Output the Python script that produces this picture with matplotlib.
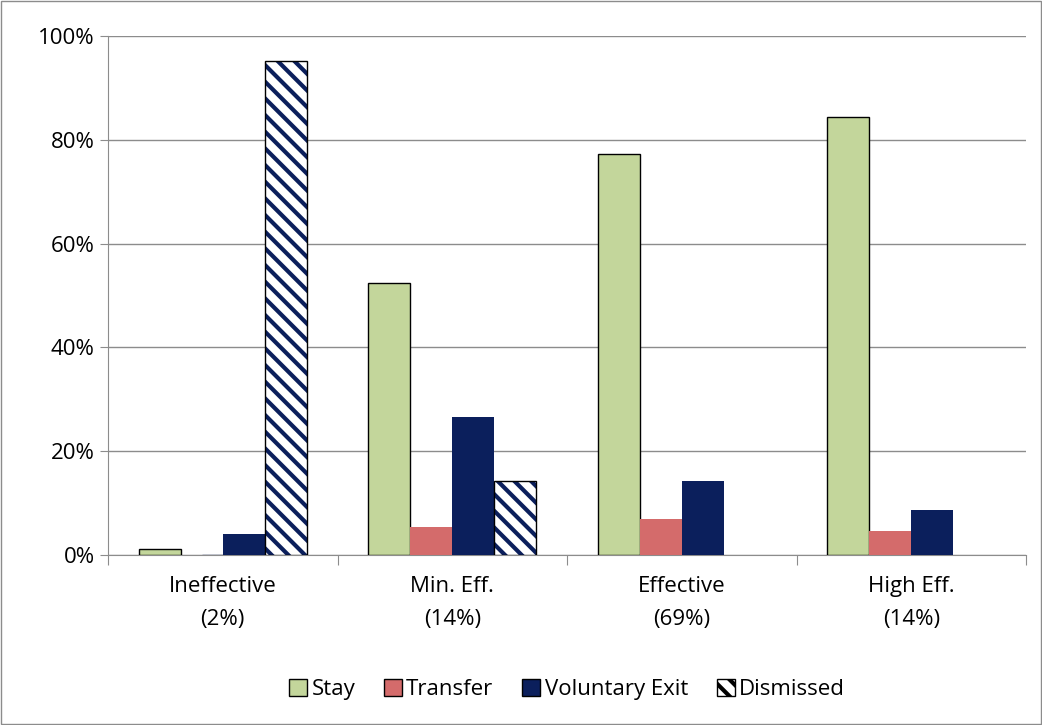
import numpy as np
import matplotlib.pyplot as plt
from matplotlib.patches import Rectangle

plt.rcParams['font.family'] = ['Open Sans', 'DejaVu Sans']
plt.rcParams['hatch.linewidth'] = 3.0

groups = ['Ineffective\n(2%)', 'Min. Eff.\n(14%)', 'Effective\n(69%)', 'High Eff.\n(14%)']
series = ['Stay', 'Transfer', 'Voluntary Exit', 'Dismissed']
stay = [1.2, 52.4, 77.3, 84.4]
transfer = [0.0, 5.3, 6.9, 4.6]
vol_exit = [4.0, 26.6, 14.3, 8.6]
dismissed = [95.1, 14.3, 0.0, 0.0]

navy = '#0b1f5c'
fig = plt.figure(figsize=(10.42, 7.25), dpi=100)
fig.patches.append(Rectangle((0.001, 0.001), 0.998, 0.998, transform=fig.transFigure,
                             fill=False, edgecolor='#8c8c8c', linewidth=1))
ax = fig.add_axes([108 / 1042, 1 - 555 / 725, 918 / 1042, 519 / 725])

x = np.arange(len(groups))
w = 0.183
ax.bar(x - 1.5 * w, stay, w, color='#c3d69b', edgecolor='black', linewidth=1, label=series[0], zorder=3)
ax.bar(x - 0.5 * w, transfer, w, color='#d46b6b', edgecolor='none', label=series[1], zorder=3)
ax.bar(x + 0.5 * w, vol_exit, w, color=navy, edgecolor='none', label=series[2], zorder=3)
for xi, v in zip(x, dismissed):
    if v > 0:
        ax.bar(xi + 1.5 * w, v, w, color='white', edgecolor=navy, hatch='\\\\', linewidth=0, zorder=3)
        ax.bar(xi + 1.5 * w, v, w, fill=False, edgecolor='black', linewidth=1, zorder=4)
ax.bar([0], [0], w, color='white', edgecolor=navy, hatch='\\\\', label=series[3])

ax.set_xlim(-0.5, 3.5)
ax.set_ylim(0, 100)
ax.set_yticks(range(0, 101, 20))
ax.set_yticklabels([f'{v}%' for v in range(0, 101, 20)], fontsize=16)
ax.yaxis.grid(True, color='#8c8c8c', linewidth=1, zorder=0)
ax.set_xticks(np.arange(-0.5, 4, 1))
ax.set_xticklabels([])
ax.tick_params(axis='x', length=7, color='#8c8c8c')
ax.tick_params(axis='y', length=6, color='#8c8c8c')
for xi, g in zip(x, groups):
    ax.text(xi, -4, g, ha='center', va='top', fontsize=16, linespacing=1.75,
            transform=ax.transData)
for s in ['top', 'right']:
    ax.spines[s].set_visible(False)
for s in ['left', 'bottom']:
    ax.spines[s].set_color('#8c8c8c')

h, l = ax.get_legend_handles_labels()
leg = ax.legend(h, l, loc='upper center', bbox_to_anchor=(0.5, -0.2), ncol=4, frameon=False,
                fontsize=16, handlelength=0.8, handleheight=0.8, handletextpad=0.2, columnspacing=1.3)
for p in leg.get_patches():
    p.set_edgecolor('black')
    p.set_linewidth(1)

fig.savefig('out.png', dpi=100)
